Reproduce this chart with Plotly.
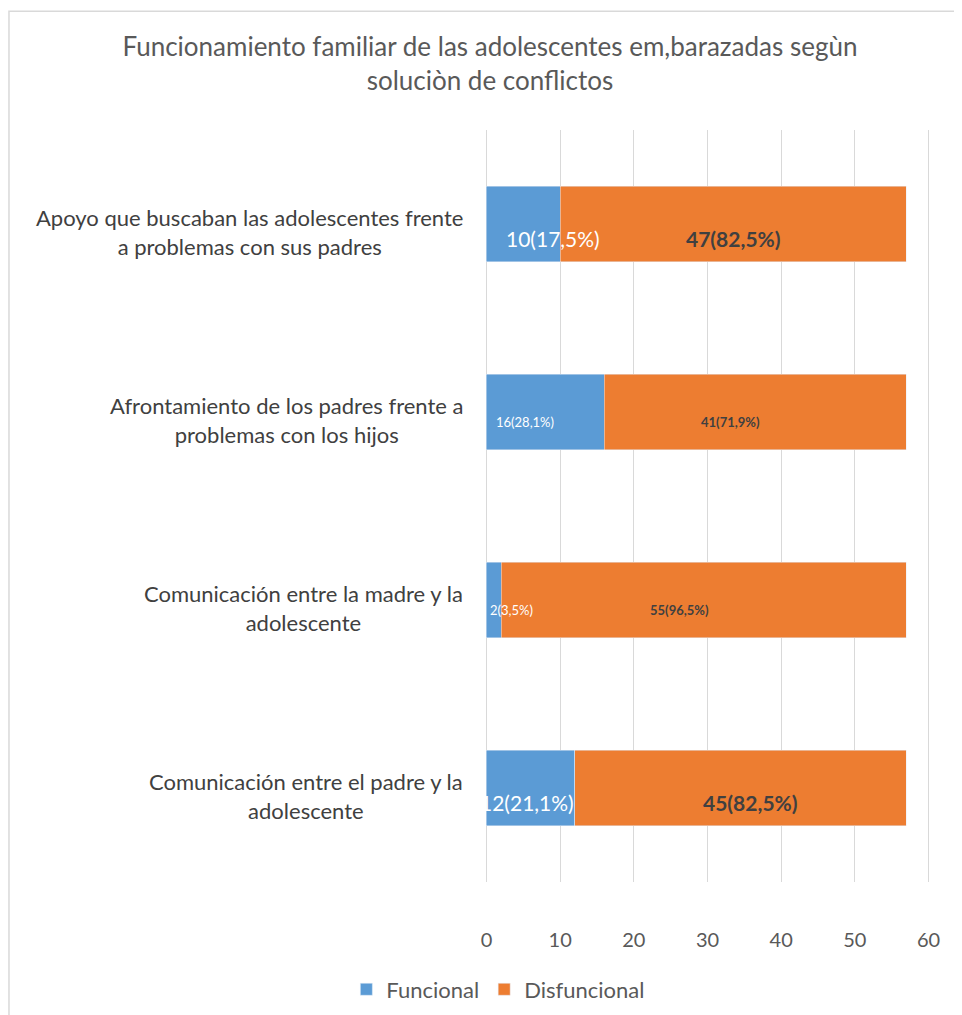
import plotly.graph_objects as go

# data (top category first)
categorias = [
    "Apoyo que buscaban las adolescentes frente<br>a problemas con sus padres",
    "Afrontamiento de los padres frente a<br>problemas con los hijos",
    "Comunicación entre la madre y la<br>adolescente",
    "Comunicación entre el padre y la<br>adolescente",
]
funcional = [10, 16, 2, 12]
disfuncional = [47, 41, 55, 45]
etiq_funcional = ["10(17,5%)", "16(28,1%)", "2(3,5%)", "12(21,1%)"]
etiq_disfuncional = ["47(82,5%)", "41(71,9%)", "55(96,5%)", "45(82,5%)"]
x_ticks = [0, 10, 20, 30, 40, 50, 60]

AZUL = "#5B9BD5"
NARANJA = "#ED7D31"
GRIS = "#595959"
FUENTE = "Lato, Open Sans, sans-serif"

# label sizes / nudges differ between bars in the original
tam_etiq = [21, 13, 13, 21]
dx_func = [30, -20, 18, -4]
dx_disf = [0, -25, -24, 10]

fig = go.Figure()
fig.add_trace(go.Bar(y=categorias, x=funcional, orientation="h", name="Funcional",
                     marker=dict(color=AZUL), width=0.4))
fig.add_trace(go.Bar(y=categorias, x=disfuncional, orientation="h", name="Disfuncional",
                     marker=dict(color=NARANJA), width=0.4))

anots = []
for i, cat in enumerate(categorias):
    dy = -14 if tam_etiq[i] > 15 else -10
    anots.append(dict(x=funcional[i] / 2, y=cat, xref="x", yref="y", text=etiq_funcional[i],
                      showarrow=False, xshift=dx_func[i], yshift=dy,
                      font=dict(color="white", size=tam_etiq[i], family=FUENTE)))
    anots.append(dict(x=funcional[i] + disfuncional[i] / 2, y=cat, xref="x", yref="y",
                      text="<b>" + etiq_disfuncional[i] + "</b>", showarrow=False,
                      xshift=dx_disf[i], yshift=dy,
                      font=dict(color="#404040", size=tam_etiq[i], family=FUENTE)))
    # category labels, centred like the Excel original
    anots.append(dict(x=-0.045, y=cat, xref="paper", yref="y", text=cat, showarrow=False,
                      xanchor="right", align="center", yshift=-8,
                      font=dict(color="#404040", size=22, family=FUENTE)))

fig.update_layout(
    width=962, height=1015,
    margin=dict(l=477, r=40, t=122, b=125),
    paper_bgcolor="white", plot_bgcolor="white",
    barmode="stack", bargap=0.6,
    font=dict(family=FUENTE, color=GRIS),
    title=dict(text="Funcionamiento familiar de las adolescentes em,barazadas segùn<br>soluciòn de conflictos",
               x=0.501, xanchor="center", y=0.953, yanchor="top",
               font=dict(size=26, color=GRIS, family=FUENTE)),
    xaxis=dict(range=[-0.2, 60.2], tickvals=x_ticks, showgrid=True, gridcolor="#D9D9D9", gridwidth=1,
               zeroline=False, showline=False, ticks="", tickfont=dict(size=20, color=GRIS),
               ticklabelstandoff=44),
    yaxis=dict(autorange="reversed", showticklabels=False, showgrid=False, showline=False, ticks=""),
    legend=dict(orientation="h", x=0.03, xanchor="center", y=-0.115, yanchor="top",
                font=dict(size=22, color=GRIS), traceorder="normal"),
    annotations=anots,
    shapes=[dict(type="rect", xref="paper", yref="paper", x0=-1.0697, x1=1.3, y0=-0.3, y1=1.158,
                 line=dict(color="#D9D9D9", width=1.5), layer="below")],
)

fig.write_html("out.html")
